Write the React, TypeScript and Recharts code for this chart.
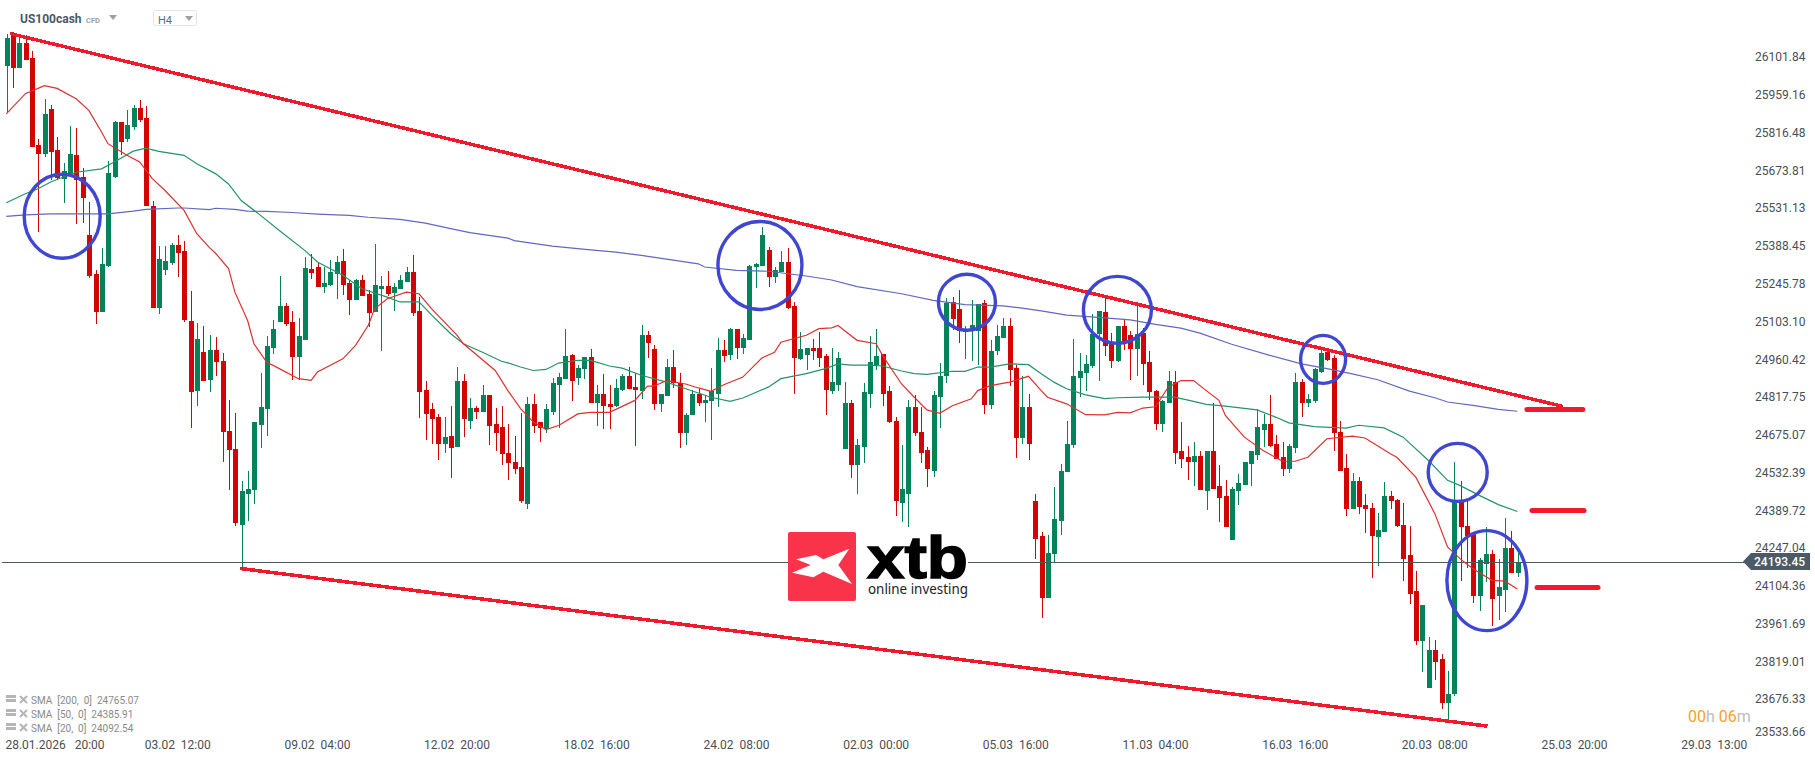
import React from "react";
import { ComposedChart, Bar, Line, XAxis, YAxis, ReferenceLine, ReferenceDot } from "recharts";

// every candle row: [open, high, low, close]
const candlesJanFeb: number[][] = [
[26070,26192,25896,26174],[26196,26198,25988,26061],[26061,26179,26061,26157],[26157,26186,26091,26091],[26099,26125,25762,25762],
[25770,25793,25441,25736],[25736,25944,25725,25887],[25906,25921,25638,25743],[25751,25800,25638,25648],[25644,25704,25552,25672],
[25663,25842,25663,25736],[25732,25834,25471,25638],[25649,25683,25475,25570],[25430,25554,25267,25275],[25282,25297,25093,25139],
[25139,25381,25139,25320],[25313,25709,25309,25664],[25649,25861,25645,25857],[25857,25857,25732,25781],[25793,25902,25781,25846],
[25838,25921,25827,25910],[25910,25940,25857,25864],[25872,25917,25539,25539],[25539,25558,25154,25154],[25154,25388,25131,25339],
[25297,25388,25279,25331],[25324,25399,25316,25392],[25392,25430,25271,25362],[25369,25407,25101,25108],[25105,25218,24700,24836],
[24840,25097,24783,25037],[24987,25086,24878,24878],[24882,25052,24836,24995],[24995,25044,24897,24950],[24953,24984,24572,24685],
[24689,24806,24466,24617],[24621,24757,24330,24341],[24337,24500,24170,24462],[24454,24538,24349,24473],[24466,24723,24413,24723],
[24712,24908,24625,24780],[24772,25048,24670,25010],[25003,25108,24980,25074],[25101,25275,25101,25161],[25161,25173,25086,25093],
[25101,25142,24882,24969],[24969,25116,24882,25048],[25033,25347,25033,25305],[25301,25358,25263,25286],[25309,25328,25233,25233],
[25233,25309,25210,25248],[25241,25335,25237,25290],[25282,25350,25188,25328],[25331,25377,25203,25241],[25248,25260,25127,25184],
[25184,25263,25184,25260],[25260,25279,25199,25199],[25207,25222,25082,25135],[25139,25396,25139,25241],[25226,25275,24991,25237],
[25237,25294,25199,25207],[25210,25248,25142,25233],[25226,25279,25226,25260],[25252,25309,25252,25290],[25290,25354,25124,25135],
[25142,25195,24738,24836],[24844,24878,24655,24753],[24772,24798,24643,24734],[24742,24753,24579,24643],[24643,24742,24609,24666],
[24670,24783,24511,24625],
];
const candlesFebMar: number[][] = [
[24628,24931,24628,24878],[24878,24904,24666,24734],[24727,24814,24696,24776],[24776,24783,24734,24761],[24761,24863,24761,24825],
[24825,24825,24636,24708],[24715,24776,24613,24681],[24704,24783,24560,24602],[24609,24715,24504,24568],[24575,24670,24526,24545],
[24553,24757,24420,24424],[24413,24817,24394,24791],[24791,24832,24681,24708],[24723,24723,24647,24700],[24696,24791,24681,24772],
[24761,24889,24749,24870],[24866,24908,24700,24893],[24885,25074,24885,24972],[24976,24980,24802,24878],[24889,24938,24863,24927],
[24923,24969,24885,24969],[24969,24999,24798,24798],[24798,24863,24708,24829],[24829,24904,24696,24783],[24791,24866,24696,24780],
[24783,24885,24780,24851],[24844,24904,24840,24897],[24897,24934,24848,24848],[24855,24908,24632,24844],[24840,25090,24810,25052],
[25052,25067,24965,25021],[24999,25014,24768,24791],[24791,24829,24764,24829],[24821,24961,24821,24931],[24931,24995,24851,24870],
[24872,24908,24625,24681],[24681,24757,24636,24749],[24749,24844,24749,24832],[24832,24848,24783,24795],[24795,24825,24723,24806],
[24802,24927,24655,24840],[24832,25040,24780,24995],[24995,25033,24950,24972],[24976,25078,24957,25074],[25074,25074,24961,25003],
[25003,25055,24980,25040],[25033,25316,25033,25313],[25309,25324,25229,25320],[25313,25460,25313,25430],[25373,25384,25233,25271],
[25271,25309,25248,25297],[25290,25369,25290,25328],[25328,25381,25150,25154],[25161,25176,24829,24965],[24961,25063,24957,24999],
[24976,25003,24919,25003],[25003,25037,24957,24991],[25003,25063,24931,24965],[24972,24980,24749,24844],[24840,25003,24832,24874],
[24866,24987,24840,24965],[24621,24874,24621,24798],[24798,24806,24511,24560],[24560,24659,24451,24636],[24628,24870,24568,24836],
[24832,25048,24776,24950],[24938,25074,24919,24972],[24980,24980,24783,24832],[24840,24859,24719,24723],[24727,24742,24368,24424],
];
const candlesMarch: number[][] = [
[24420,24636,24345,24470],[24454,24806,24326,24780],[24780,24825,24670,24681],[24685,24780,24568,24609],[24617,24628,24477,24545],
[24541,24840,24515,24825],[24817,24946,24700,24900],[24900,25192,24870,25173],[25176,25195,25071,25112],[25150,25222,25021,25067],
[25063,25086,24961,25071],[25067,25184,24953,25090],[25067,25169,24938,25169],[25173,25184,24753,24787],[24787,25033,24772,24991],
[24991,25090,24976,25048],[25040,25116,25040,25086],[25086,25116,24859,24919],[24927,24938,24587,24662],[24662,24897,24640,24780],
[24780,24829,24579,24640],[24424,24451,24205,24281],[24292,24307,23982,24061],[24061,24299,24061,24231],[24224,24477,24197,24356],
[24352,24564,24296,24538],[24534,24730,24534,24640],[24636,25037,24625,24897],[24889,24984,24817,24916],[24908,24976,24840,24942],
[24935,25131,24927,25055],[25055,25142,24878,25142],[25139,25195,24972,25010],[25021,25059,24927,24953],[24953,25086,24950,25086],
[25086,25108,24995,25025],[25052,25067,24882,24999],[24999,25165,24897,25055],[25059,25078,24863,24942],[24950,24991,24806,24836],
[24840,24844,24693,24715],[24715,24806,24685,24802],[24795,24916,24795,24878],[24874,24916,24564,24606],[24613,24723,24549,24583],
[24591,24632,24507,24572],[24572,24647,24481,24594],[24594,24613,24466,24466],[24462,24613,24390,24613],[24613,24798,24473,24473],
[24481,24560,24345,24436],[24443,24504,24326,24326],[24277,24477,24277,24470],[24462,24526,24409,24492],[24485,24572,24485,24572],
[24564,24613,24481,24613],[24598,24772,24579,24704],[24693,24753,24628,24715],[24715,24825,24628,24632],[24640,24677,24583,24583],
[24591,24647,24522,24545],[24545,24643,24530,24632],[24625,24908,24609,24874],[24874,24885,24742,24795],[24798,24829,24780,24810],
[24802,24927,24795,24923],[24912,24999,24908,24984],[24987,24995,24953,24957],[24965,24976,24613,24681],[24685,24730,24541,24541],
[24549,24602,24368,24394],
];
const candlesLate: number[][] = [
[24394,24530,24394,24503],[24503,24518,24378,24405],[24412,24454,24303,24394],[24401,24420,24133,24292],[24288,24382,24182,24318],
[24310,24496,24310,24446],[24443,24465,24394,24424],[24431,24435,24326,24333],[24337,24420,24125,24208],[24220,24333,24038,24076],
[24084,24163,23883,23898],[23898,24031,23781,24031],[23721,23910,23721,23864],[23864,23902,23751,23819],[23827,23849,23641,23664],
[23664,23785,23600,23698],[23698,24575,23690,24428],[24428,24503,24125,24326],[24333,24431,24174,24295],[24303,24303,24042,24065],
[24065,24212,24012,24201],[24189,24326,24121,24227],[24227,24242,23955,24057],[24065,24205,23978,24099],[24091,24363,24008,24250],
[24250,24314,24155,24155],[24155,24231,24140,24193],
];

// moving averages, read at selected bars: [bar, value]
const sma20Points: number[][] = [
[0,25889],[3,25965],[6,25995],[8,25985],[11,25946],[13,25902],[15,25820],[16,25776],[19,25732],[21,25707],[23,25644],[25,25599],[28,25524],[30,25436],[32,25383],[33,25361],[35,25304],[36,25215],[38,25108],[39,25020],[41,24951],[43,24926],[46,24888],[48,24882],[49,24913],[53,24963],[55,25014],[57,25089],[58,25152],[60,25190],[63,25215],[65,25209],[67,25152],[70,25077],[71,25052],[72,25020],[77,24919],[79,24843],[81,24775],[83,24724],[85,24696],[87,24711],[90,24755],[92,24761],[95,24761],[99,24806],[101,24860],[102,24860],[104,24881],[107,24868],[109,24853],[111,24840],[113,24865],[116,24894],[119,24966],[121,24988],[122,25026],[126,25052],[128,25077],[130,25080],[131,25089],[132,25070],[134,25033],[137,25020],[138,24976],[141,24868],[143,24818],[145,24770],[147,24757],[149,24786],[152,24812],[153,24843],[155,24862],[158,24875],[161,24897],[163,24843],[164,24818],[167,24793],[170,24752],[173,24751],[175,24761],[177,24759],[179,24777],[181,24782],[183,24856],[185,24881],[187,24881],[189,24843],[191,24806],[192,24749],[195,24667],[198,24616],[201,24576],[203,24576],[205,24591],[208,24661],[212,24671],[214,24664],[218,24604],[219,24591],[222,24516],[225,24378],[227,24252],[229,24207],[231,24170],[234,24126],[236,24123],[238,24093],
];
const sma50Points: number[][] = [
[0,25553],[3,25587],[5,25606],[7,25631],[9,25650],[11,25668],[15,25681],[17,25707],[20,25748],[22,25759],[24,25747],[28,25732],[30,25700],[33,25662],[35,25624],[37,25561],[40,25506],[43,25448],[47,25373],[49,25329],[53,25279],[56,25228],[60,25196],[62,25178],[65,25178],[67,25128],[70,25058],[72,25020],[75,24988],[78,24954],[79,24948],[81,24932],[83,24919],[85,24923],[87,24947],[90,24957],[92,24957],[95,24936],[97,24928],[100,24901],[104,24875],[107,24850],[111,24818],[114,24802],[116,24815],[120,24856],[122,24888],[126,24907],[129,24926],[131,24944],[133,24939],[136,24939],[138,24936],[141,24917],[143,24907],[145,24904],[149,24916],[151,24916],[153,24932],[155,24932],[158,24944],[161,24941],[163,24907],[165,24875],[167,24850],[170,24827],[173,24813],[175,24816],[179,24818],[182,24818],[184,24818],[187,24802],[189,24791],[192,24784],[197,24770],[200,24742],[202,24721],[206,24707],[211,24701],[213,24712],[217,24702],[220,24667],[224,24579],[227,24504],[229,24484],[232,24447],[235,24412],[238,24386],
];
const sma200Points: number[][] = [
[0,25501],[3,25507],[7,25511],[12,25511],[16,25511],[20,25521],[22,25528],[27,25533],[28,25533],[32,25527],[33,25532],[36,25528],[38,25521],[41,25520],[45,25516],[49,25510],[54,25505],[57,25498],[62,25490],[66,25476],[70,25455],[73,25440],[79,25419],[80,25410],[86,25389],[92,25375],[96,25366],[100,25354],[109,25322],[110,25310],[115,25297],[120,25294],[126,25276],[130,25261],[134,25236],[141,25209],[146,25184],[151,25168],[157,25163],[160,25155],[163,25144],[167,25128],[172,25120],[177,25110],[181,25093],[185,25079],[188,25060],[193,25018],[199,24976],[204,24944],[208,24926],[212,24906],[216,24884],[221,24841],[225,24816],[227,24800],[231,24787],[235,24772],[238,24765],
];

const priceTicks = [26101.84,25959.16,25816.48,25673.81,25531.13,25388.45,25245.78,25103.10,24960.42,24817.75,24675.07,24532.39,24389.72,24247.04,24104.36,23961.69,23819.01,23676.33,23533.66];
const timeTickBars = [5,27,49,71,93,115,137,159,181,203,225,247,269];
const timeTickLabels = ["28.01.2026   20:00","03.02  12:00","09.02  04:00","12.02  20:00","18.02  16:00","24.02  08:00","02.03  00:00","05.03  16:00","11.03  04:00","16.03  16:00","20.03  08:00","25.03  20:00","29.03  13:00"];

const currentPrice = 24193.45;
// annotations: [bar, price]
const upperTrend = [[0.6,26192],[245.2,24783]];
const lowerTrend = [[36.8,24171],[233.3,23575]];
// [first bar, last bar, price]
const levels = [[239.5,248.3,24772],[240.3,248.5,24390],[241.1,250.7,24099]];
// [bar, price, radius x, radius y]
const rings = [[8.8,25502,38,42],[118.7,25316,42,44],[151.3,25177,28.5,28],[175,25148,34,33.5],[207.4,24961,22.5,24],[228.6,24534,29.5,29],[233.2,24125,40,50]];
const legendRows = ["SMA  [200,  0]  24765.07","SMA  [50,  0]  24385.91","SMA  [20,  0]  24092.54"];

const allCandles = [...candlesJanFeb, ...candlesFebMar, ...candlesMarch, ...candlesLate];
const toLookup = (pts: number[][]) => new Map(pts.map(([b, v]) => [b, v]));
const s20 = toLookup(sma20Points), s50 = toLookup(sma50Points), s200 = toLookup(sma200Points);
const table = allCandles.map(([o, h, l, c], i) => ({
  i, o, h, l, c,
  sma20: s20.get(i) ?? null, sma50: s50.get(i) ?? null, sma200: s200.get(i) ?? null,
}));

const UP = "#04825a";
const DOWN = "#d20404";
const FONT = "Roboto, sans-serif";

function Candle(props: any) {
  const { x, y, width, height, payload } = props;
  if (height == null) return null;
  const { o, h, l, c } = payload;
  const k = h === l ? 0 : height / (h - l);
  const color = c >= o ? UP : DOWN;
  const top = y + (h - Math.max(o, c)) * k;
  const bh = Math.max(Math.abs(o - c) * k, 1);
  const cx = Math.round(x + width / 2);
  return (
    <g shapeRendering="crispEdges">
      <rect x={cx} y={y} width={1} height={height} fill={color} />
      <rect x={cx - 2} y={top} width={5} height={bh} fill={color} />
    </g>
  );
}

function TimeTick(props: any) {
  const { x, payload } = props;
  const idx = timeTickBars.indexOf(payload.value);
  return (
    <text x={Math.max(x, 55)} y={749} textAnchor="middle" fontFamily={FONT} fontSize={12} fill="#4a4f55" style={{ whiteSpace: "pre" }}>
      {timeTickLabels[idx]}
    </text>
  );
}

function PriceTick(props: any) {
  const { y, payload } = props;
  return (
    <text x={1755} y={Math.min(y, 732) + 4} fontFamily={FONT} fontSize={12} fill="#4a4f55">
      {payload.value.toFixed(2)}
    </text>
  );
}

const Ring = (rx: number, ry: number) => (p: any) => (
  <ellipse cx={p.cx} cy={p.cy} rx={rx} ry={ry} fill="none" stroke="#3f46cf" strokeWidth={3.4} />
);

function Overlay() {
  return (
    <svg width={1815} height={761} style={{ position: "absolute", left: 0, top: 0, pointerEvents: "none" }}>
      <text x={20} y={23} fontFamily={FONT} fontSize={12} fontWeight={700} fill="#4c5862">US100cash</text>
      <text x={86} y={23} fontFamily={FONT} fontSize={7.5} fontWeight={700} fill="#9aa0a6">CFD</text>
      <polygon points="109,15 117,15 113,20" fill="#9aa0a6" />
      <rect x={153.5} y={10.5} width={43} height={15} rx={2} fill="#fff" stroke="#e2e4e6" />
      <text x={158} y={24} fontFamily={FONT} fontSize={11} fill="#5f6b75">H4</text>
      <polygon points="185,16 193,16 189,21" fill="#9aa0a6" />

      {legendRows.map((t, i) => (
        <g key={t} transform={`translate(0,${i * 14})`}>
          <rect x={6} y={695} width={10} height={3} fill="#b5b5b5" />
          <rect x={6} y={699} width={10} height={3} fill="#b5b5b5" />
          <path d="M20 696 L27 703 M27 696 L20 703" stroke="#b5b5b5" strokeWidth={2} />
          <text x={31} y={704} fontFamily={FONT} fontSize={10} fill="#8a8a8a" style={{ whiteSpace: "pre" }}>{t}</text>
        </g>
      ))}

      <rect x={788} y={532} width={180} height={69} fill="#fff" />
      <rect x={788} y={532} width={68} height={69} rx={2} fill="#f9334a" />
      <g transform="translate(770,520) scale(0.3333)">
        <polygon points="238,86 205,135 246,192 160,155 130,172 66,158 122,135 78,118 138,105 160,118" fill="#fff" />
      </g>
      <text x={867} y={578} fontFamily="'Liberation Sans', Arial, sans-serif" fontSize={60} fontWeight={700} fill="#000" stroke="#000" strokeWidth={1.5} textLength={101} lengthAdjust="spacingAndGlyphs">xtb</text>
      <text x={868} y={594} fontFamily="'Noto Sans', sans-serif" fontSize={14} fill="#222" textLength={100} lengthAdjust="spacingAndGlyphs">online investing</text>

      <polygon points="1743,561.5 1751,553 1810,553 1810,570 1751,570" fill="#4b5a66" />
      <text x={1754} y={566} fontFamily={FONT} fontSize={12} fontWeight={500} fill="#fff">24193.45</text>

      <text x={1688} y={722} fontFamily={FONT} fontSize={16}>
        <tspan fill="#ff9f1c">00</tspan><tspan fill="#bdbdbd">h </tspan><tspan fill="#ff9f1c">06</tspan><tspan fill="#bdbdbd">m</tspan>
      </text>
    </svg>
  );
}

export default function App() {
  return (
    <div style={{ position: "absolute", left: 0, top: 0, width: 1815, height: 761, background: "#fff", overflow: "hidden" }}>
      <ComposedChart width={1815} height={761} data={table} margin={{ top: 0, right: 0, bottom: 0, left: 2 }}>
        <XAxis dataKey="i" type="number" domain={[-0.68, 273.85]} ticks={timeTickBars} interval={0} height={24}
          axisLine={false} tickLine={false} tick={<TimeTick />} />
        <YAxis orientation="right" type="number" domain={[23534, 26319]} ticks={priceTicks} interval={0} width={70}
          axisLine={false} tickLine={false} tick={<PriceTick />} />
        <ReferenceLine y={currentPrice} stroke="#4b5a60" strokeWidth={1} shapeRendering="crispEdges" />
        <Line dataKey="sma200" stroke="#6268bf" strokeWidth={1.2} dot={false} connectNulls isAnimationActive={false} />
        <Line dataKey="sma50" stroke="#24936a" strokeWidth={1.2} dot={false} connectNulls isAnimationActive={false} />
        <Bar dataKey={(d: any) => [d.l, d.h]} barSize={5} shape={<Candle />} isAnimationActive={false} />
        <Line dataKey="sma20" stroke="#dd3030" strokeWidth={1.2} dot={false} connectNulls isAnimationActive={false} />
        <ReferenceLine segment={upperTrend.map(([x, y]) => ({ x, y }))} stroke="#f01a2c" strokeWidth={3.5} shapeRendering="crispEdges" />
        <ReferenceLine segment={lowerTrend.map(([x, y]) => ({ x, y }))} stroke="#f01a2c" strokeWidth={3.5} shapeRendering="crispEdges" />
        {levels.map(([a, b, y]) => (
          <ReferenceLine key={y} segment={[{ x: a, y }, { x: b, y }]} stroke="#f01a2c" strokeWidth={5} strokeLinecap="round" />
        ))}
        {rings.map(([x, y, rx, ry]) => (
          <ReferenceDot key={x} x={x} y={y} r={rx} shape={Ring(rx, ry)} />
        ))}
      </ComposedChart>
      <Overlay />
    </div>
  );
}
